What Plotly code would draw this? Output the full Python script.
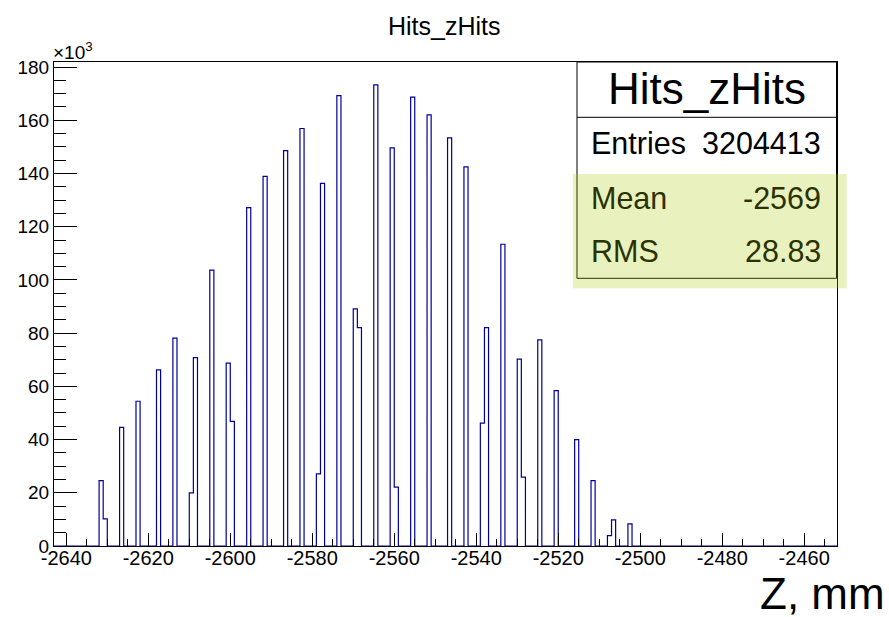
import numpy as np
import plotly.graph_objects as go

# Histogram Hits_zHits: 1 mm bins, counts in units of 10^3 hits
x_min, x_max = -2643, -2452
bin_low = [-2632, -2631, -2627, -2623, -2618, -2614, -2610, -2609, -2605, -2601,
           -2600, -2596, -2592, -2587, -2583, -2579, -2578, -2574, -2570, -2569,
           -2565, -2561, -2560, -2556, -2552, -2547, -2543, -2539, -2538, -2534,
           -2530, -2529, -2525, -2521, -2516, -2512, -2508, -2507, -2503]
hits_k = [24.6, 10.2, 44.6, 54.4, 66.2, 78.1, 20.0, 70.8, 103.7, 68.7,
          46.8, 127.2, 138.9, 148.6, 156.9, 27.1, 136.3, 169.3, 89.1, 82.1,
          173.3, 149.6, 22.1, 168.7, 162.0, 153.4, 142.5, 46.2, 82.1, 113.4,
          70.2, 25.9, 77.5, 58.4, 40.0, 24.6, 3.9, 9.8, 8.3]
y_max = 181.9

x_ticks = [-2640, -2620, -2600, -2580, -2560, -2540, -2520, -2500, -2480, -2460]
y_ticks = [0, 20, 40, 60, 80, 100, 120, 140, 160, 180]

stats_title = "Hits_zHits"
stats_rows = [("Entries", "3204413"), ("Mean", "-2569"), ("RMS", "28.83")]

# full set of bins over the axis range, drawn as a step outline
edges = np.arange(x_min, x_max + 1)
counts = np.zeros(len(edges) - 1)
counts[np.array(bin_low) - x_min] = hits_k
step_y = np.append(counts, counts[-1])

W, H = 889, 617
ML, MR, MT, MB = 54, 52, 62, 71
PW, PH = W - ML - MR, H - MT - MB


def px(xp):
    return (xp - ML) / PW


def py(yp):
    return (H - MB - yp) / PH


FONT = "Liberation Sans, Arial, sans-serif"
OLIVE = "#2a3200"

fig = go.Figure()
fig.add_trace(go.Scatter(
    x=edges, y=step_y, mode="lines", line_shape="hv",
    line=dict(color="#000099", width=1.2), hoverinfo="skip", showlegend=False,
))

fig.update_layout(
    width=W, height=H,
    margin=dict(l=ML, r=MR, t=MT, b=MB, pad=0),
    paper_bgcolor="white", plot_bgcolor="white",
    font=dict(family=FONT, color="black"),
    xaxis=dict(
        range=[x_min, x_max], showgrid=False, zeroline=False,
        showline=True, linecolor="black", linewidth=1, mirror=True,
        tickmode="array", tickvals=x_ticks, ticktext=[str(v) for v in x_ticks],
        ticks="inside", ticklen=13, tickwidth=1, tickcolor="black",
        ticklabelstandoff=-6,
        minor=dict(tickmode="linear", tick0=-2640, dtick=5, ticks="inside",
                   ticklen=7, tickwidth=1, tickcolor="black", showgrid=False),
        tickfont=dict(size=20, family=FONT, color="black"),
    ),
    yaxis=dict(
        range=[0, y_max], showgrid=False, zeroline=False,
        showline=True, linecolor="black", linewidth=1, mirror=True,
        tickmode="array", tickvals=y_ticks, ticktext=[str(v) for v in y_ticks],
        ticks="inside", ticklen=23, tickwidth=1, tickcolor="black",
        minor=dict(tickmode="linear", tick0=0, dtick=5, ticks="inside",
                   ticklen=11.5, tickwidth=1, tickcolor="black", showgrid=False),
        tickfont=dict(size=19, family=FONT, color="black"),
    ),
)

annotations = []
# plot title
annotations.append(dict(x=px(444), y=py(26), xref="paper", yref="paper",
                        text="Hits_zHits", showarrow=False,
                        xanchor="center", yanchor="middle",
                        font=dict(size=25, family=FONT, color="black")))
# exponent of the y axis
annotations.append(dict(x=px(51), y=py(51), xref="paper", yref="paper",
                        text="×10<sup>3</sup>", showarrow=False,
                        xanchor="left", yanchor="middle",
                        font=dict(size=19, family=FONT, color="black")))
# x axis title
annotations.append(dict(x=px(887), y=py(620), xref="paper", yref="paper",
                        text="Z, mm", showarrow=False,
                        xanchor="right", yanchor="bottom",
                        font=dict(size=44, family=FONT, color="black")))

# statistics box
box_l, box_r, box_t, box_div, box_b = 577, 836.5, 62, 117.3, 278.3
shapes = [
    dict(type="rect", xref="paper", yref="paper", layer="above",
         x0=px(box_l), x1=px(box_r), y0=py(box_b), y1=py(box_t),
         fillcolor="white", line=dict(color="black", width=1)),
    dict(type="line", xref="paper", yref="paper", layer="above",
         x0=px(box_l), x1=px(box_r), y0=py(box_div), y1=py(box_div),
         line=dict(color="black", width=1)),
    # highlighted Mean / RMS rows
    dict(type="rect", xref="paper", yref="paper", layer="above",
         x0=px(572.7), x1=px(846.7), y0=py(288.3), y1=py(174),
         fillcolor="rgba(167,199,0,0.25)", line=dict(width=0)),
]

annotations.append(dict(x=px((box_l + box_r) / 2), y=py(89), xref="paper", yref="paper",
                        text=stats_title, showarrow=False,
                        xanchor="center", yanchor="middle",
                        font=dict(size=44, family=FONT, color="black")))
row_y = [143, 198, 251]
for (name, val), yy in zip(stats_rows, row_y):
    col = "black" if name == "Entries" else OLIVE
    annotations.append(dict(x=px(589), y=py(yy), xref="paper", yref="paper",
                            text=name, showarrow=False,
                            xanchor="left", yanchor="middle",
                            font=dict(size=30.5, family=FONT, color=col)))
    annotations.append(dict(x=px(823), y=py(yy), xref="paper", yref="paper",
                            text=val, showarrow=False,
                            xanchor="right", yanchor="middle",
                            font=dict(size=30.5, family=FONT, color=col)))

fig.update_layout(shapes=shapes, annotations=annotations)
fig.write_html("out.html")
